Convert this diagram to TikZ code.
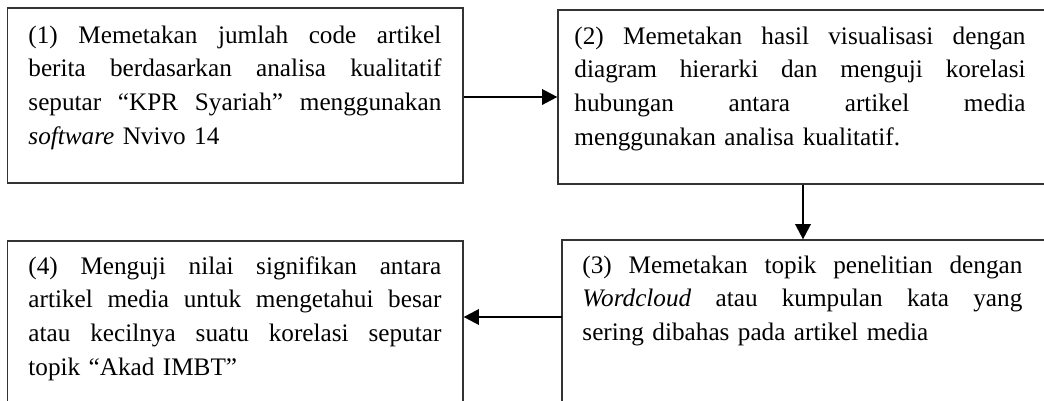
\documentclass[tikz,border=0pt]{standalone}
\usepackage{fontspec}
\setmainfont{Liberation Serif}
\usetikzlibrary{arrows.meta,fit}
\newcommand{\jl}[2]{{\spaceskip=0pt\xspaceskip=0pt\makebox[#1][s]{#2}}}
\begin{document}
\begin{tikzpicture}[x=0.456pt,y=-0.456pt,
  box/.style={draw=black!80, line width=0.55pt, inner sep=0pt},
  txt/.style={anchor=base west, inner sep=0pt, align=left,
    font=\fontsize{11.5pt}{15.5pt}\selectfont},
  arr/.style={draw=black, line width=1.1pt, -{Triangle[length=7pt,width=7pt]}}]
\useasboundingbox (0,0) rectangle (1044,401);
\clip (0,0) rectangle (1044,401);
\fill[white] (0,0) rectangle (1044,401);
\node[box, fit={(7.5,8)(463,183)}] (b1) {};
\node[box, fit={(558,10)(1050,184)}] (b2) {};
\node[box, fit={(562,240)(1050,430)}] (b3) {};
\node[box, fit={(7.5,241)(463,430)}] (b4) {};
\coordinate (a3) at (562,317);
\node[txt, text width=188.3pt] (t1) at (28,43) {%
\jl{188.3pt}{(1) Memetakan jumlah code artikel}\\
\jl{188.3pt}{berita berdasarkan analisa kualitatif}\\
\jl{188.3pt}{seputar “KPR Syariah” menggunakan}\\
\textit{software} Nvivo 14};
\node[txt, text width=205.7pt] (t2) at (574,44) {%
\jl{205.7pt}{(2) Memetakan hasil visualisasi dengan}\\
\jl{205.7pt}{diagram hierarki dan menguji korelasi}\\
\jl{205.7pt}{hubungan antara artikel media}\\
menggunakan analisa kualitatif.};
\node[txt, text width=200.6pt] (t3) at (582,273) {%
\jl{200.6pt}{(3) Memetakan topik penelitian dengan}\\
\jl{200.6pt}{\textit{Wordcloud} atau kumpulan kata yang}\\
sering dibahas pada artikel media};
\node[txt, text width=188.3pt] (t4) at (28,274) {%
\jl{188.3pt}{(4) Menguji nilai signifikan antara}\\
\jl{188.3pt}{artikel media untuk mengetahui besar}\\
\jl{188.3pt}{atau kecilnya suatu korelasi seputar}\\
topik “Akad IMBT”};
\draw[arr] (b1.east |- b2.west) -- (b2.west);
\draw[arr] (b2.south -| 803,0) -- (b3.north -| 803,0);
\draw[arr] (a3) -- (b4.east |- a3);
\end{tikzpicture}
\end{document}
